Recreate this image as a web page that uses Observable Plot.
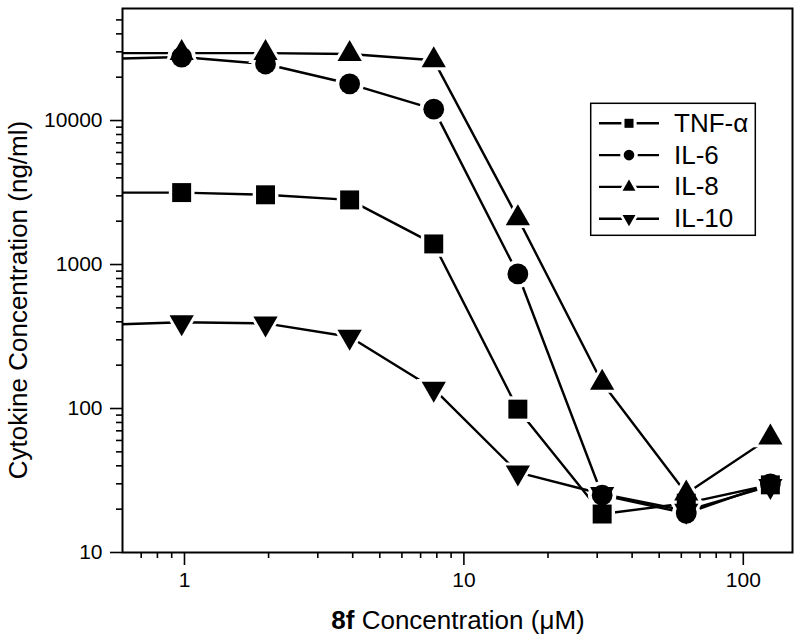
<!DOCTYPE html>
<html><head><meta charset="utf-8">
<script src="https://cdn.jsdelivr.net/npm/d3@7"></script>
<script src="https://cdn.jsdelivr.net/npm/@observablehq/plot@0.6"></script>
<style>html,body{margin:0;padding:0;background:#fff} svg{display:block}</style>
</head><body><div id="chart"></div>
<script>
// Concentrations of 8f (µM); the first point lies left of the visible axis range
const concentration = [0.488, 0.977, 1.95, 3.9, 7.8, 15.6, 31.25, 62.5, 125];
const tnfAlpha = [3160, 3160, 3050, 2810, 1390, 99, 18.5, 22, 29.5];
const il6 = [26700, 27600, 24700, 18000, 12000, 860, 25, 18.7, 30];
const il8 = [29400, 29400, 29400, 29000, 26200, 2100, 151, 25.7, 63];
const il10 = [380, 397, 390, 315, 137, 36, 25.5, 19.5, 29];
const seriesNames = ["TNF-α", "IL-6", "IL-8", "IL-10"];
const xMajorTicks = [1, 10, 100];
const xMinorTicks = [0.7, 0.8, 0.9, 2, 3, 4, 5, 6, 7, 8, 9, 20, 30, 40, 50, 60, 70, 80, 90];
const yMajorTicks = [10, 100, 1000, 10000];
const yMinorTicks = [20, 30, 40, 50, 60, 70, 80, 90, 200, 300, 400, 500, 600, 700, 800, 900,
  2000, 3000, 4000, 5000, 6000, 7000, 8000, 9000, 20000, 30000, 40000, 50000];

const triangleDown = {
  draw(context, size) {
    const y = Math.sqrt(size / (Math.sqrt(3) * 3));
    context.moveTo(0, y * 2);
    context.lineTo(-Math.sqrt(3) * y, -y);
    context.lineTo(Math.sqrt(3) * y, -y);
    context.closePath();
  }
};
const seriesValues = [tnfAlpha, il6, il8, il10];
const seriesSymbols = [d3.symbolSquare, d3.symbolCircle, d3.symbolTriangle, triangleDown];
const seriesR = [10.7, 10.4, 9, 9];
const legendR = [5.1, 5.3, 4.8, 4.8];

const data = seriesNames.flatMap((name, k) =>
  concentration.map((c, i) => ({name, x: c, y: seriesValues[k][i]})));

const haloMarks = seriesNames.map((name, k) =>
  Plot.dot(data.filter(d => d.name === name), {x: "x", y: "y", r: seriesR[k] + 3.8, symbol: seriesSymbols[k],
    fill: "white", stroke: "none", clip: true}));
const dotMarks = seriesNames.map((name, k) =>
  Plot.dot(data.filter(d => d.name === name), {x: "x", y: "y", r: seriesR[k], symbol: seriesSymbols[k],
    fill: "black", stroke: "none", clip: true}));

const svg = Plot.plot({
  width: 800, height: 642,
  marginLeft: 122, marginRight: 8, marginTop: 8, marginBottom: 90,
  style: {fontFamily: "'Liberation Sans', Arial, sans-serif", fontSize: "21px", background: "white", color: "black"},
  x: {type: "log", domain: [0.6, 150]},
  y: {type: "log", domain: [10, 60000]},
  marks: [
    Plot.line(data, {x: "x", y: "y", z: "name", stroke: "black", strokeWidth: 2.4, clip: true}),
    ...haloMarks,
    ...dotMarks,
    Plot.axisX(xMinorTicks, {tickSize: 6, strokeWidth: 1.6, tickFormat: () => "", label: null}),
    Plot.axisX(xMajorTicks, {tickSize: 13, tickPadding: 7, strokeWidth: 1.6, tickFormat: d => String(d), fontSize: 21, label: null}),
    Plot.axisY(yMinorTicks, {tickSize: 6, strokeWidth: 1.6, tickFormat: () => "", label: null}),
    Plot.axisY(yMajorTicks, {tickSize: 12, tickPadding: 8, strokeWidth: 1.6, tickFormat: d => String(d), fontSize: 21, label: null}),
    Plot.frame({stroke: "black", strokeWidth: 2})
  ]
});

const s = d3.select(svg);
const font = "'Liberation Sans', Arial, sans-serif";
// X axis title
const xt = s.append("text").attr("x", 458).attr("y", 629).attr("text-anchor", "middle")
  .attr("font-family", font).attr("font-size", 26).attr("fill", "black");
xt.append("tspan").attr("font-weight", "bold").text("8f");
xt.append("tspan").text(" Concentration (μM)");
// Y axis title
s.append("text").attr("transform", "translate(27,300) rotate(-90)").attr("text-anchor", "middle")
  .attr("font-family", font).attr("font-size", 26).attr("fill", "black")
  .text("Cytokine Concentration (ng/ml)");
// Legend
const lg = s.append("g");
lg.append("rect").attr("x", 590.7).attr("y", 103.3).attr("width", 164.6).attr("height", 132)
  .attr("fill", "white").attr("stroke", "black").attr("stroke-width", 1.5);
seriesNames.forEach((name, k) => {
  const ly = 123.3 + 31.8 * k;
  lg.append("line").attr("x1", 599).attr("x2", 659).attr("y1", ly).attr("y2", ly)
    .attr("stroke", "black").attr("stroke-width", 2.4);
  const halo = d3.symbol().type(seriesSymbols[k]).size(Math.PI * (legendR[k] + 3.5) ** 2)();
  const p = d3.symbol().type(seriesSymbols[k]).size(Math.PI * legendR[k] ** 2)();
  lg.append("path").attr("d", halo).attr("transform", `translate(629,${ly})`).attr("fill", "white");
  lg.append("path").attr("d", p).attr("transform", `translate(629,${ly})`).attr("fill", "black");
  lg.append("text").attr("x", 674).attr("y", ly + 8.5).attr("text-anchor", "start").attr("font-family", font)
    .attr("font-size", 26).attr("fill", "black").text(name);
});
document.getElementById("chart").append(svg);
</script>
</body></html>
